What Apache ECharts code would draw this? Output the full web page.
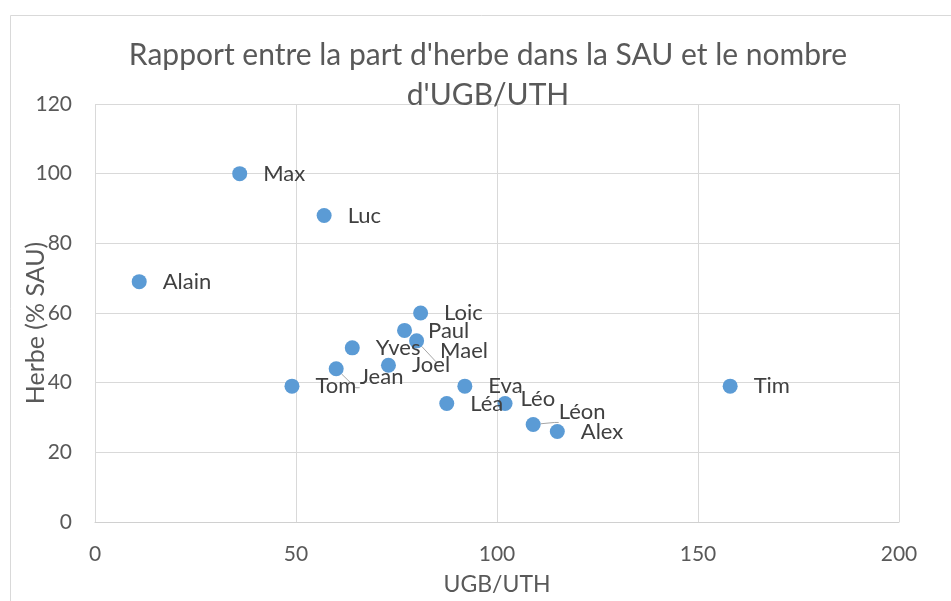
<!DOCTYPE html>
<html>
<head>
<meta charset="utf-8">
<title>Rapport herbe / UGB</title>
<script src="https://cdn.jsdelivr.net/npm/echarts@6/dist/echarts.min.js"></script>
<style>
  html, body { margin: 0; padding: 0; background: #fff; }
  #chart { width: 951px; height: 601px; }
</style>
</head>
<body>
<div id="chart"></div>
<script>
  // données
  var names = ['Alain', 'Max', 'Luc', 'Loic', 'Paul', 'Mael', 'Yves', 'Joel', 'Jean', 'Tom', 'Eva', 'Léa', 'Léo', 'Léon', 'Alex', 'Tim'];
  var ugbUth = [11, 36, 57, 81, 77, 80, 64, 73, 60, 49, 92, 87.5, 102, 109, 115, 158];
  var herbe = [69, 100, 88, 60, 55, 52, 50, 45, 44, 39, 39, 34, 34, 28, 26, 39];
  var xTicks = [0, 50, 100, 150, 200];
  var yTicks = [0, 20, 40, 60, 80, 100, 120];

  // étiquettes déplacées (avec trait de rappel)
  var movedLabels = {
    'Mael': { offset: [0, 10], line: true },
    'Jean': { offset: [0, 8], line: true },
    'Léo': { offset: [-8, -5], line: false },
    'Léon': { offset: [2, -13], line: true }
  };

  var font = 'Lato, "Open Sans", sans-serif';
  var txt = '#595959';

  var points = names.map(function (n, i) {
    var item = { name: n, value: [ugbUth[i], herbe[i]] };
    var m = movedLabels[n];
    if (m) {
      item.label = { offset: m.offset };
      item.labelLine = { show: m.line };
    }
    return item;
  });

  var myChart = echarts.init(document.getElementById('chart'));
  myChart.setOption({
    animation: false,
    textStyle: { fontFamily: font },
    graphic: [{
      type: 'rect',
      left: 8, top: 13,
      shape: { width: 960, height: 600 },
      style: { fill: 'none', stroke: '#d9d9d9', lineWidth: 1 }
    }],
    title: {
      text: "Rapport entre la part d'herbe dans la SAU et le nombre\nd'UGB/UTH",
      left: 483,
      textAlign: 'center',
      top: 30,
      textStyle: { fontFamily: font, fontSize: 30, fontWeight: 'normal', color: txt, lineHeight: 40 }
    },
    grid: { left: 95, right: 52, top: 104, bottom: 78 },
    xAxis: {
      type: 'value',
      min: xTicks[0], max: xTicks[xTicks.length - 1], interval: 50,
      name: 'UGB/UTH',
      nameLocation: 'middle',
      nameGap: 51,
      nameMoveOverlap: false,
      nameTextStyle: { fontFamily: font, fontSize: 23, color: txt },
      axisLine: { show: true, lineStyle: { color: '#d0d0d0' } },
      axisTick: { show: false },
      axisLabel: { fontFamily: font, fontSize: 21, color: txt, margin: 22 },
      splitLine: { show: true, lineStyle: { color: '#d9d9d9' } }
    },
    yAxis: {
      type: 'value',
      min: yTicks[0], max: yTicks[yTicks.length - 1], interval: 20,
      name: 'Herbe (% SAU)',
      nameLocation: 'middle',
      nameGap: 47,
      nameMoveOverlap: false,
      nameTextStyle: { fontFamily: font, fontSize: 25, color: txt, padding: [0, 20, 0, 0] },
      axisLine: { show: false },
      axisTick: { show: false },
      axisLabel: { fontFamily: font, fontSize: 21, color: txt, margin: 23 },
      splitLine: { show: true, lineStyle: { color: '#d9d9d9' } }
    },
    series: [{
      type: 'scatter',
      symbol: 'circle',
      symbolSize: 15,
      itemStyle: { color: '#5b9bd5', opacity: 1 },
      label: {
        show: true,
        position: 'right',
        distance: 16,
        formatter: '{b}',
        fontFamily: font,
        fontSize: 22,
        color: '#404040'
      },
      labelLine: { show: false, length2: 4, lineStyle: { color: '#a6a6a6', width: 1 } },
      data: points
    }]
  });
</script>
</body>
</html>
